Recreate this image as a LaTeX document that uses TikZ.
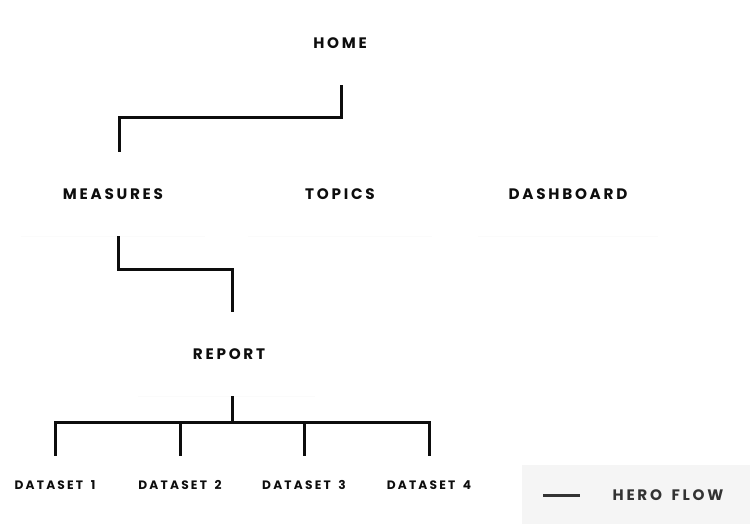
\documentclass[tikz,border=0pt]{standalone}
\usepackage{fontspec}
\newfontfamily\navfont[LetterSpace=18, WordSpace=1.6]{Poppins}
\definecolor{legendbg}{HTML}{F5F5F5}
\definecolor{legendink}{HTML}{333333}
\definecolor{navink}{HTML}{0D0D0D}

\begin{document}
\begin{tikzpicture}[x=1pt, y=-1pt]
\tikzset{ nav/.style={font=\navfont\bfseries\fontsize{15.2}{18}\selectfont, text=navink, inner sep=0pt, minimum height=84pt},
  leaf/.style={font=\navfont\bfseries\fontsize{12.2}{14}\selectfont, text=navink, inner sep=0pt, minimum height=58pt},
  flow/.style={line width=3pt, navink},
  faint/.style={gray!3, line width=0.6pt} }

\useasboundingbox (0,0) rectangle (750,524);

%\draw [lightgray, dashed](0,0) grid (750,524);

\node [nav] (home)      at (340,43)  {HOME};
\node [nav] (measures)  at (113,194) {MEASURES};
\node [nav] (topics)    at (340,194) {TOPICS};
\node [nav] (dashboard) at (568,194) {DASHBOARD};
\node [nav] (report)    at (229,354) {REPORT};

\node [leaf] (data1) at (55,485)  {DATASET 1};
\node [leaf] (data2) at (180,485) {DATASET 2};
\node [leaf] (data3) at (304,485) {DATASET 3};
\node [leaf] (data4) at (429,485) {DATASET 4};

\draw [faint] ([xshift=-92]measures.south)  -- ([xshift=92]measures.south);
\draw [faint] ([xshift=-92]topics.south)    -- ([xshift=92]topics.south);
\draw [faint] ([xshift=-90]dashboard.south) -- ([xshift=90]dashboard.south);
\draw [faint] ([xshift=-91]report.south)    -- ([xshift=86]report.south);

\draw [flow] ([xshift=1]home.south) -- ++(0,32) -| ([xshift=6]measures.north);
\draw [flow] ([xshift=5]measures.south) -- ++(0,33) -| ([xshift=3]report.north);
\draw [flow] ([xshift=3]report.south) -- ++(0,27) coordinate (bus);

\draw [flow] (data1.north) -- ++(0,-33) -| (data4.north);
\foreach \d in {data2,data3}
  \draw [flow] (\d.north) -- (\d.north |- bus);

% legend
\node [fill=legendbg, inner sep=0pt, minimum width=228pt, minimum height=59pt] (legend) at (636,494.5) {};
\coordinate (keyA) at (543,495);
\coordinate (keyB) at (580,495);
\draw [line width=3pt, legendink] (keyA) -- (keyB);
\node [nav, text=legendink, minimum height=0pt] (heroflow) at (668,495) {HERO FLOW};

\end{tikzpicture}
\end{document}
